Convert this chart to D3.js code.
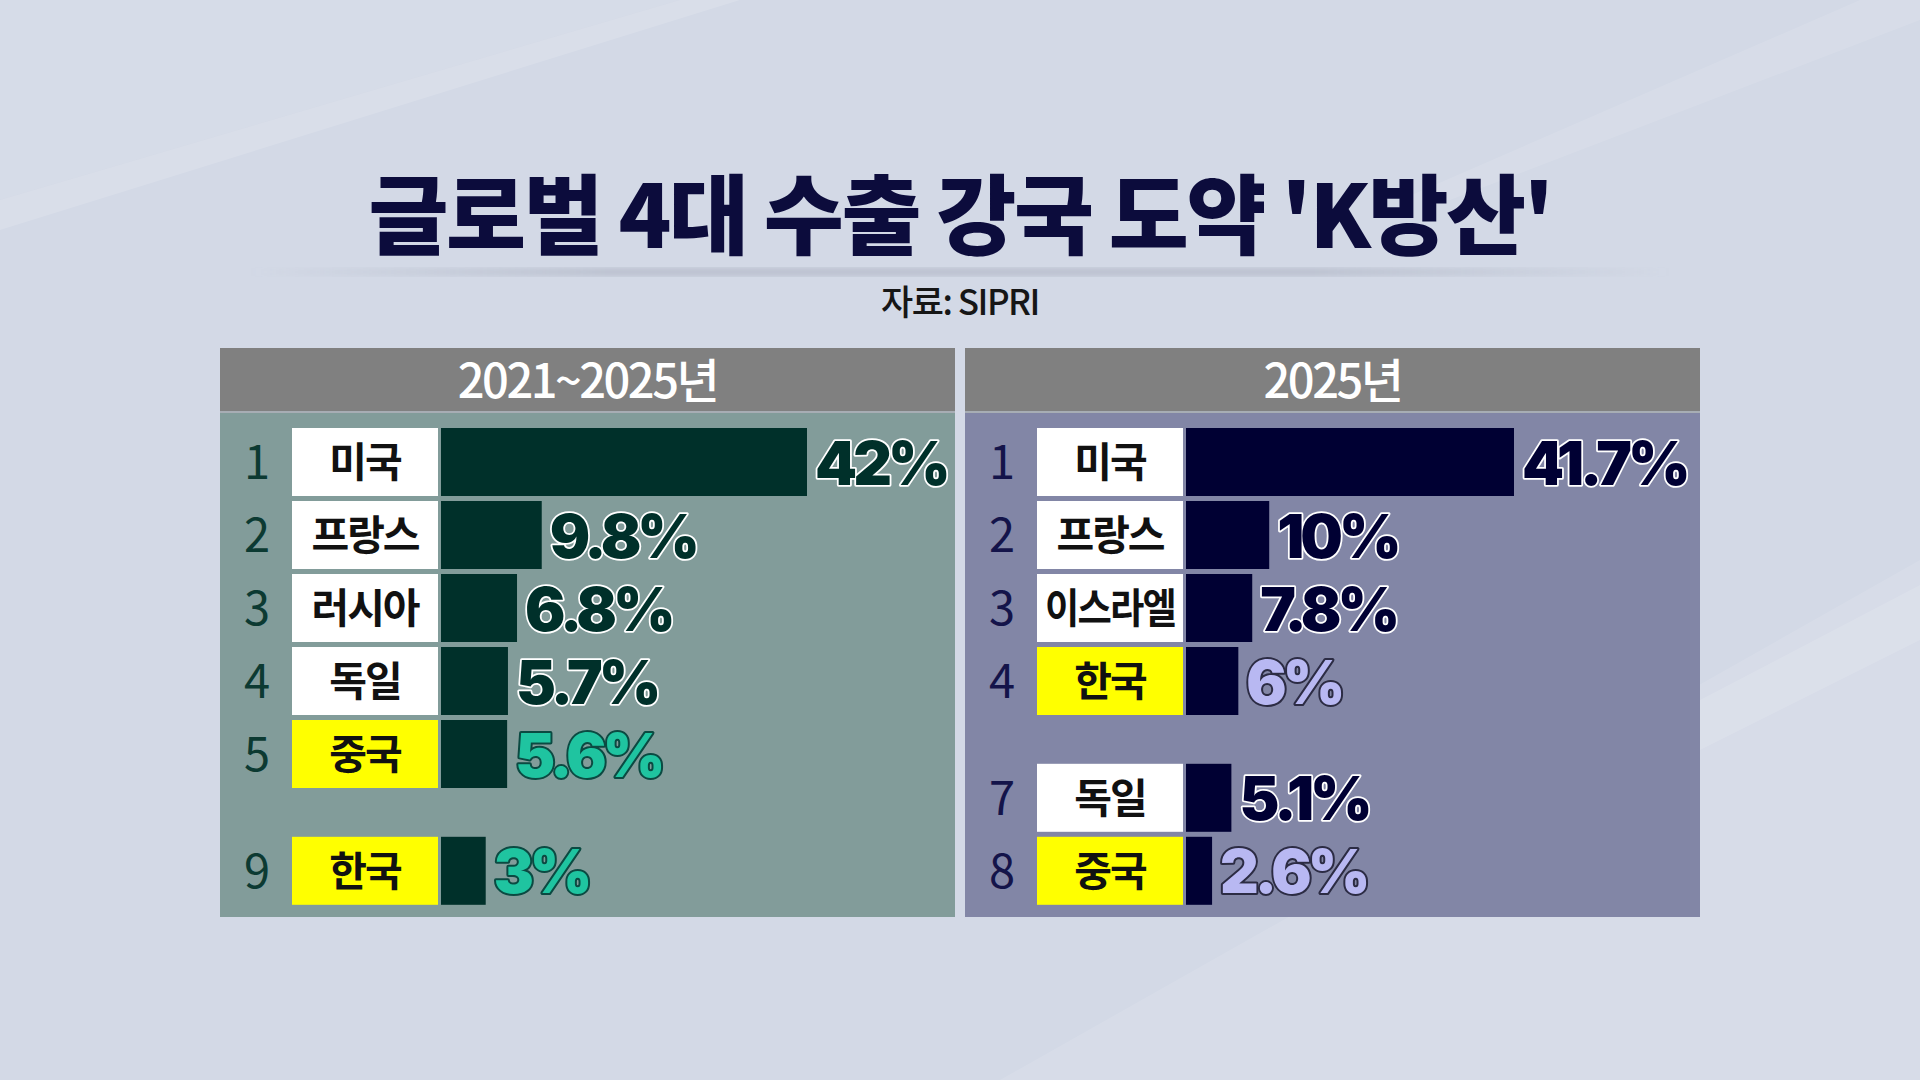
<!DOCTYPE html>
<html>
<head>
<meta charset="utf-8">
<script src="https://cdn.jsdelivr.net/npm/d3@7"></script>
<style>
  html, body { margin: 0; padding: 0; background: #d3d9e6; }
  svg { display: block; }
</style>
</head>
<body>
<svg id="chart" width="1920" height="1080"></svg>
<script>
// data
var leftRanks = [1, 2, 3, 4, 5, 9];
var leftNames = ["미국", "프랑스", "러시아", "독일", "중국", "한국"];
var leftValues = [42, 9.8, 6.8, 5.7, 5.6, 3];
var leftLabels = ["42%", "9.8%", "6.8%", "5.7%", "5.6%", "3%"];

var rightRanks = [1, 2, 3, 4, 7, 8];
var rightNames = ["미국", "프랑스", "이스라엘", "한국", "독일", "중국"];
var rightValues = [41.7, 10, 7.8, 6, 5.1, 2.6];
var rightLabels = ["41.7%", "10%", "7.8%", "6%", "5.1%", "2.6%"];

var highlighted = ["한국", "중국"];
var panelTitles = ["2021~2025년", "2025년"];

var svg = d3.select("svg#chart");
var defs = svg.append("defs");

// background streaks
svg.append("rect").attr("width", 1920).attr("height", 1080).attr("fill", "#d3d9e6");
svg.append("path")
    .attr("d", "M0,0 L680,0 L0,200 Z")
    .attr("fill", "#ffffff").attr("opacity", 0.08);
svg.append("path")
    .attr("d", "M0,200 L680,0 L740,0 L0,230 Z")
    .attr("fill", "#ffffff").attr("opacity", 0.14);
svg.append("path")
    .attr("d", "M1450,200 L1920,20 L1920,0 L1860,0 L1400,200 Z")
    .attr("fill", "#ffffff").attr("opacity", 0.10);
svg.append("path")
    .attr("d", "M1000,1080 L1920,560 L1920,1080 Z")
    .attr("fill", "#ffffff").attr("opacity", 0.10);
svg.append("path")
    .attr("d", "M1700,700 L1920,585 L1920,640 L1700,750 Z")
    .attr("fill", "#ffffff").attr("opacity", 0.12);

// title
svg.append("text")
    .attr("x", 960)
    .attr("y", 248)
    .attr("text-anchor", "middle")
    .attr("font-family", "'Noto Sans CJK KR'")
    .attr("font-weight", 900)
    .attr("font-size", "87px")
    .attr("letter-spacing", "-2.5px")
    .attr("fill", "#0c0c3c")
    .text("글로벌 4대 수출 강국 도약 'K방산'");

// soft shadow line under title
var grad = defs.append("linearGradient").attr("id", "shadowGrad");
grad.append("stop").attr("offset", "0%").attr("stop-color", "#9aa0b0").attr("stop-opacity", 0);
grad.append("stop").attr("offset", "25%").attr("stop-color", "#9aa0b0").attr("stop-opacity", 0.45);
grad.append("stop").attr("offset", "75%").attr("stop-color", "#9aa0b0").attr("stop-opacity", 0.45);
grad.append("stop").attr("offset", "100%").attr("stop-color", "#9aa0b0").attr("stop-opacity", 0);
defs.append("filter").attr("id", "blur")
    .append("feGaussianBlur").attr("stdDeviation", 3);
svg.append("rect")
    .attr("x", 250).attr("y", 268)
    .attr("width", 1420).attr("height", 8)
    .attr("fill", "url(#shadowGrad)")
    .attr("filter", "url(#blur)");

svg.append("text")
    .attr("x", 960)
    .attr("y", 302)
    .attr("dy", "0.36em")
    .attr("text-anchor", "middle")
    .attr("font-family", "'Noto Sans CJK KR'")
    .attr("font-weight", 500)
    .attr("font-size", "35px")
    .attr("letter-spacing", "-1.5px")
    .attr("fill", "#161616")
    .text("자료: SIPRI");

var rowTop = 428, rowH = 68, pitch = 73;

function drawPanel(opt) {
    var g = svg.append("g")
        .attr("transform", "translate(" + opt.x + ",0)");

    g.append("rect")
        .attr("x", 0).attr("y", 348)
        .attr("width", 735).attr("height", 64)
        .attr("fill", "#808080");
    g.append("rect")
        .attr("x", 0).attr("y", 412)
        .attr("width", 735).attr("height", 505)
        .attr("fill", opt.bg);
    g.append("rect")
        .attr("x", 0).attr("y", 411)
        .attr("width", 735).attr("height", 2)
        .attr("fill", "#a7adb4");

    g.append("text")
        .attr("x", 367.5)
        .attr("y", 381)
        .attr("dy", "0.36em")
        .attr("text-anchor", "middle")
        .attr("font-family", "'Noto Sans CJK KR'")
        .attr("font-weight", 500)
        .attr("font-size", "47px")
        .attr("letter-spacing", "-2.5px")
        .attr("fill", "#ffffff")
        .text(opt.title);

    var x = d3.scaleLinear()
        .domain([0, d3.max(opt.values)])
        .range(opt.range);

    var rows = opt.names.map(function(n, i) {
        return {
            rank: opt.ranks[i],
            name: n,
            value: opt.values[i],
            label: opt.labels[i],
            hl: highlighted.indexOf(n) >= 0,
            slot: i + (i >= opt.breakAt ? 0.6 : 0)
        };
    });

    var row = g.selectAll("g.row")
        .data(rows)
        .enter()
        .append("g")
        .attr("class", "row")
        .attr("transform", function(d) {
            return "translate(0," + (rowTop + d.slot * pitch) + ")";
        });

    row.append("text")
        .attr("x", 37)
        .attr("y", rowH / 2)
        .attr("dy", "0.36em")
        .attr("text-anchor", "middle")
        .attr("font-family", "'Noto Sans CJK KR'")
        .attr("font-weight", 400)
        .attr("font-size", "47px")
        .attr("fill", opt.rankColor)
        .text(function(d) { return d.rank; });

    row.append("rect")
        .attr("x", 72)
        .attr("width", 146)
        .attr("height", rowH)
        .attr("fill", function(d) { return d.hl ? "#ffff00" : "#ffffff"; });

    row.append("text")
        .attr("x", 145)
        .attr("y", rowH / 2)
        .attr("dy", "0.36em")
        .attr("text-anchor", "middle")
        .attr("font-family", "'Noto Sans CJK KR'")
        .attr("font-weight", 700)
        .attr("font-size", "41px")
        .attr("letter-spacing", "-2px")
        .attr("fill", "#111111")
        .each(function(d) {
            if (d.name.length > 3) {
                d3.select(this)
                    .attr("textLength", 130)
                    .attr("lengthAdjust", "spacingAndGlyphs");
            }
        })
        .text(function(d) { return d.name; });

    row.append("rect")
        .attr("x", 221)
        .attr("width", function(d) { return x(d.value); })
        .attr("height", rowH)
        .attr("fill", opt.barColor);

    row.append("text")
        .attr("x", function(d) { return 221 + x(d.value) + 8; })
        .attr("y", rowH / 2 + 1)
        .attr("dy", "0.36em")
        .attr("font-family", "Inter")
        .attr("font-weight", 900)
        .attr("font-size", "60px")
        .attr("letter-spacing", "-4px")
        .attr("paint-order", "stroke")
        .attr("stroke-linejoin", "round")
        .attr("fill", function(d) { return d.hl ? opt.hlFill : opt.barColor; })
        .attr("stroke", function(d) { return d.hl ? opt.hlStroke : "#ffffff"; })
        .attr("stroke-width", function(d) { return d.hl ? 4 : 3.5; })
        .text(function(d) { return d.label; });
}

drawPanel({
    x: 220,
    title: panelTitles[0],
    ranks: leftRanks,
    names: leftNames,
    values: leftValues,
    labels: leftLabels,
    breakAt: 5,
    range: [20, 366],
    bg: "#829c9a",
    barColor: "#00302a",
    rankColor: "#0c3a32",
    hlFill: "#1fc4a0",
    hlStroke: "#0b4a42"
});

drawPanel({
    x: 965,
    title: panelTitles[1],
    ranks: rightRanks,
    names: rightNames,
    values: rightValues,
    labels: rightLabels,
    breakAt: 4,
    range: [6, 328],
    bg: "#8286a6",
    barColor: "#000033",
    rankColor: "#14144a",
    hlFill: "#b8b8f2",
    hlStroke: "#2c2c44"
});
</script>
</body>
</html>
